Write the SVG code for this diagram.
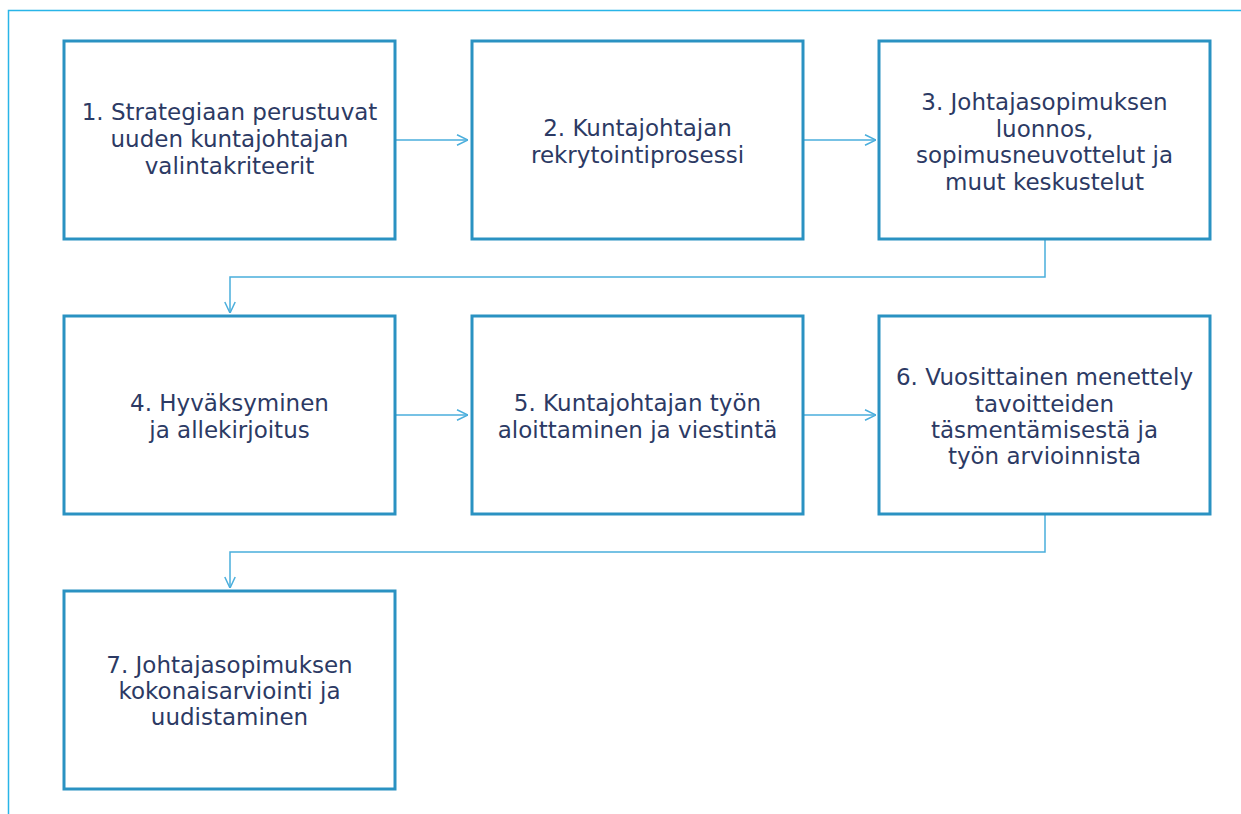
<svg xmlns="http://www.w3.org/2000/svg" width="1241" height="814" viewBox="0 0 1241 814">
<style>
.box{fill:#fff;stroke:#2A92C2;stroke-width:3}
.t{font-family:"DejaVu Sans",Verdana,sans-serif;font-size:23px;fill:#2C3A64;text-anchor:middle}
.c{fill:none;stroke:#4AAEDC;stroke-width:1.5}
</style>
<defs>
<marker id="ah" viewBox="0 0 12 12" refX="12" refY="6" markerWidth="12" markerHeight="12" markerUnits="userSpaceOnUse" orient="auto">
<path d="M1,0.8 L12,6 L1,11.2" fill="none" stroke="#4AAEDC" stroke-width="1.5"/>
</marker>
</defs>
<rect width="1241" height="814" fill="#fff"/>
<path d="M8.5,814 V10.5 H1241" fill="none" stroke="#29B5E8" stroke-width="1.5"/>
<g id="connectors">
<path class="c" d="M396,140 H468" marker-end="url(#ah)"/>
<path class="c" d="M803,140 H876" marker-end="url(#ah)"/>
<path class="c" d="M1045,240 V277 H230 V313" marker-end="url(#ah)"/>
<path class="c" d="M396,415 H468" marker-end="url(#ah)"/>
<path class="c" d="M803,415 H876" marker-end="url(#ah)"/>
<path class="c" d="M1045,515 V552 H230 V588" marker-end="url(#ah)"/>
</g>
<g id="n1"><rect class="box" x="64" y="41" width="331" height="198"/>
<text class="t"><tspan x="229.5" y="120">1. Strategiaan perustuvat</tspan><tspan x="229.5" y="147">uuden kuntajohtajan</tspan><tspan x="229.5" y="174">valintakriteerit</tspan></text></g>
<g id="n2"><rect class="box" x="472" y="41" width="331" height="198"/>
<text class="t"><tspan x="637.5" y="136">2. Kuntajohtajan</tspan><tspan x="637.5" y="163">rekrytointiprosessi</tspan></text></g>
<g id="n3"><rect class="box" x="879" y="41" width="331" height="198"/>
<text class="t"><tspan x="1044.5" y="110">3. Johtajasopimuksen</tspan><tspan x="1044.5" y="137">luonnos,</tspan><tspan x="1044.5" y="163">sopimusneuvottelut ja</tspan><tspan x="1044.5" y="190">muut keskustelut</tspan></text></g>
<g id="n4"><rect class="box" x="64" y="316" width="331" height="198"/>
<text class="t"><tspan x="229.5" y="411">4. Hyväksyminen</tspan><tspan x="229.5" y="438">ja allekirjoitus</tspan></text></g>
<g id="n5"><rect class="box" x="472" y="316" width="331" height="198"/>
<text class="t"><tspan x="637.5" y="411">5. Kuntajohtajan työn</tspan><tspan x="637.5" y="438">aloittaminen ja viestintä</tspan></text></g>
<g id="n6"><rect class="box" x="879" y="316" width="331" height="198"/>
<text class="t"><tspan x="1044.5" y="385">6. Vuosittainen menettely</tspan><tspan x="1044.5" y="412">tavoitteiden</tspan><tspan x="1044.5" y="438">täsmentämisestä ja</tspan><tspan x="1044.5" y="464">työn arvioinnista</tspan></text></g>
<g id="n7"><rect class="box" x="64" y="591" width="331" height="198"/>
<text class="t"><tspan x="229.5" y="673">7. Johtajasopimuksen</tspan><tspan x="229.5" y="699">kokonaisarviointi ja</tspan><tspan x="229.5" y="725">uudistaminen</tspan></text></g>
</svg>
